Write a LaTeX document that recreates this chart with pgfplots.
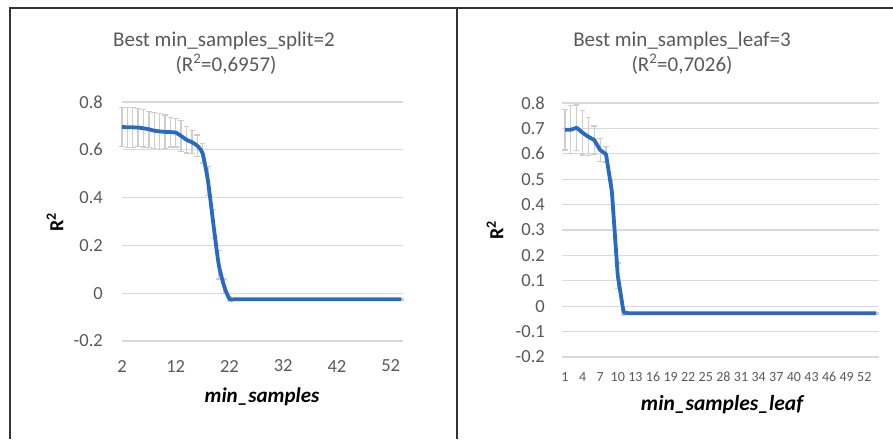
\documentclass[border=0pt]{standalone}
\usepackage{fontspec}
\setmainfont{Carlito}
\usepackage{pgfplots}
\pgfplotsset{compat=1.18}
\usepackage{pgfplotstable}

\definecolor{xlblue}{RGB}{40,105,195}
\definecolor{gridgray}{RGB}{217,217,217}
\definecolor{errgray}{RGB}{205,205,205}
\definecolor{txtgray}{RGB}{89,89,89}

% min_samples_split: mean R2 and std over folds
\pgfplotstableread{
x y e
2 0.6957 0.082
3 0.694 0.083
4 0.694 0.083
5 0.693 0.080
6 0.690 0.078
7 0.686 0.075
8 0.680 0.075
9 0.677 0.075
10 0.675 0.070
11 0.674 0.062
12 0.672 0.060
13 0.658 0.065
14 0.642 0.055
15 0.632 0.048
16 0.617 0.045
17 0.585 0.040
18 0.470 0.060
19 0.290 0.060
20 0.120 0.060
21 0.030 0.030
22 -0.024 0.010
23 -0.025 0.003
24 -0.025 0.003
25 -0.025 0.003
26 -0.025 0.003
27 -0.025 0.003
28 -0.025 0.003
29 -0.025 0.003
30 -0.025 0.003
31 -0.025 0.003
32 -0.025 0.003
33 -0.025 0.003
34 -0.025 0.003
35 -0.025 0.003
36 -0.025 0.003
37 -0.025 0.003
38 -0.025 0.003
39 -0.025 0.003
40 -0.025 0.003
41 -0.025 0.003
42 -0.025 0.003
43 -0.025 0.003
44 -0.025 0.003
45 -0.025 0.003
46 -0.025 0.003
47 -0.025 0.003
48 -0.025 0.003
49 -0.025 0.003
50 -0.025 0.003
51 -0.025 0.003
52 -0.025 0.003
53 -0.025 0.003
54 -0.025 0.003
}\splitdata

% min_samples_leaf
\pgfplotstableread{
x y e
1 0.695 0.080
2 0.695 0.095
3 0.7026 0.090
4 0.683 0.088
5 0.667 0.075
6 0.654 0.055
7 0.615 0.045
8 0.598 0.030
9 0.450 0.050
10 0.120 0.050
11 -0.025 0.010
12 -0.028 0.003
13 -0.028 0.003
14 -0.028 0.003
15 -0.028 0.003
16 -0.028 0.003
17 -0.028 0.003
18 -0.028 0.003
19 -0.028 0.003
20 -0.028 0.003
21 -0.028 0.003
22 -0.028 0.003
23 -0.028 0.003
24 -0.028 0.003
25 -0.028 0.003
26 -0.028 0.003
27 -0.028 0.003
28 -0.028 0.003
29 -0.028 0.003
30 -0.028 0.003
31 -0.028 0.003
32 -0.028 0.003
33 -0.028 0.003
34 -0.028 0.003
35 -0.028 0.003
36 -0.028 0.003
37 -0.028 0.003
38 -0.028 0.003
39 -0.028 0.003
40 -0.028 0.003
41 -0.028 0.003
42 -0.028 0.003
43 -0.028 0.003
44 -0.028 0.003
45 -0.028 0.003
46 -0.028 0.003
47 -0.028 0.003
48 -0.028 0.003
49 -0.028 0.003
50 -0.028 0.003
51 -0.028 0.003
52 -0.028 0.003
53 -0.028 0.003
54 -0.028 0.003
}\leafdata

\pgfplotsset{
  panel/.style={
    scale only axis, clip=false,
    axis line style={draw=none},
    major tick length=0pt,
    ymajorgrids,
    grid style={gridgray, line width=1.2pt},
    ymin=-0.2, ymax=0.8,
    ticklabel style={text=txtgray},
  },
  errs/.style={
    draw=none, mark=none, forget plot,
    error bars/.cd, y dir=both, y explicit,
    error bar style={draw=errgray, line width=1.3pt, solid},
    error mark options={rotate=90, mark size=2.8pt, draw=errgray, line width=1.3pt},
  },
}

\begin{document}
\begin{tikzpicture}
\useasboundingbox (0,0) rectangle (893pt,-439pt);
\draw[line width=1.2pt, black!80] (10pt,-439pt) -- (10pt,-8pt) -- (893pt,-8pt);
\draw[line width=1.6pt, black!80] (457pt,-8pt) -- (457pt,-439pt);

% left panel
\begin{axis}[panel,
    at={(122pt,-341pt)}, anchor=south west,
    width=281pt, height=239pt,
    xmin=2, xmax=54.3,
    ytick={-0.2,0,0.2,0.4,0.6,0.8},
    yticklabels={-0.2,0,0.2,0.4,0.6,0.8},
    xtick={2,12,22,32,42,52},
    xticklabels={2,12,22,32,42,52},
    yticklabel style={anchor=east, inner sep=0pt, xshift=-19pt, font=\fontsize{18.5}{20}\selectfont},
    xticklabel style={anchor=center, inner sep=0pt, yshift=-25pt, font=\fontsize{18.5}{20}\selectfont},
  ]
  \addplot[errs] table[x=x, y=y, y error=e] {\splitdata};
  \addplot[xlblue, line width=3.8pt, smooth, tension=0.35, mark=none] table[x=x, y=y] {\splitdata};
\end{axis}

% right panel
\begin{axis}[panel,
    at={(562pt,-357pt)}, anchor=south west,
    width=317pt, height=254pt,
    xmin=0.5, xmax=54.5,
    ytick={-0.2,-0.1,0,0.1,0.2,0.3,0.4,0.5,0.6,0.7,0.8},
    yticklabels={-0.2,-0.1,0,0.1,0.2,0.3,0.4,0.5,0.6,0.7,0.8},
    xtick={1,4,7,10,13,16,19,22,25,28,31,34,37,40,43,46,49,52},
    xticklabels={1,4,7,10,13,16,19,22,25,28,31,34,37,40,43,46,49,52},
    yticklabel style={anchor=east, inner sep=0pt, xshift=-17pt, font=\fontsize{18.5}{20}\selectfont},
    xticklabel style={anchor=center, inner sep=0pt, yshift=-20pt, font=\fontsize{14}{16}\selectfont},
  ]
  \addplot[errs] table[x=x, y=y, y error=e] {\leafdata};
  \addplot[xlblue, line width=3.8pt, line join=round, mark=none] table[x=x, y=y] {\leafdata};
\end{axis}

% titles and axis labels
\begin{scope}[every node/.style={inner sep=0pt}]
\node[anchor=base, text=txtgray, font=\fontsize{21}{24}\selectfont] at (224pt,-46pt) {Best min\_samples\_split=2};
\node[anchor=base, text=txtgray, font=\fontsize{21}{24}\selectfont] at (226pt,-71pt) {(R\textsuperscript{2}=0,6957)};
\node[anchor=base, text=txtgray, font=\fontsize{21}{24}\selectfont] at (682pt,-46pt) {Best min\_samples\_leaf=3};
\node[anchor=base, text=txtgray, font=\fontsize{21}{24}\selectfont] at (682pt,-71pt) {(R\textsuperscript{2}=0,7026)};

\node[rotate=90, font=\fontsize{20}{22}\selectfont\bfseries] at (55pt,-222pt) {R\textsuperscript{2}};
\node[rotate=90, font=\fontsize{20}{22}\selectfont\bfseries] at (495pt,-230pt) {R\textsuperscript{2}};

\node[font=\fontsize{21}{23}\selectfont\bfseries\itshape] at (262pt,-397pt) {min\_samples};
\node[font=\fontsize{21.5}{23}\selectfont\bfseries\itshape] at (722pt,-405pt) {min\_samples\_leaf};
\end{scope}
\end{tikzpicture}
\end{document}
